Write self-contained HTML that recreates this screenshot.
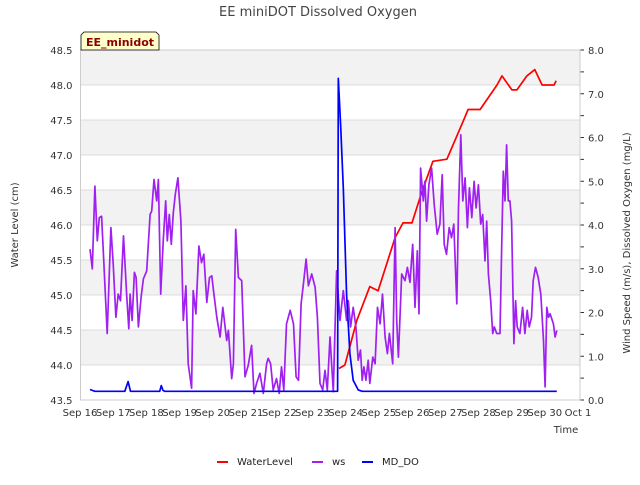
<!DOCTYPE html>
<html><head><meta charset="utf-8"><style>
body{margin:0;background:#fff;width:640px;height:480px;overflow:hidden}
svg{font-family:"DejaVu Sans","Liberation Sans",sans-serif}
</style></head><body>
<svg id="chart" width="640" height="480" viewBox="0 0 640 480">
<text x="318" y="16" text-anchor="middle" font-size="13" fill="#444">EE miniDOT Dissolved Oxygen</text>
<g id="bands"></g><g id="axes"></g><g id="series"></g>
<path d="M84,32 L156,32 L159,35 L159,50 L81,50 L81,35 Z" fill="#ffffcc" stroke="#000" stroke-width="0.8"/>
<text x="120" y="46" text-anchor="middle" font-size="11" font-weight="bold" fill="#8b0000">EE_minidot</text>
<text x="18" y="225" transform="rotate(-90 18 225)" text-anchor="middle" font-size="10" fill="#333">Water Level (cm)</text>
<text x="630" y="243" transform="rotate(-90 630 243)" text-anchor="middle" font-size="10" fill="#333">Wind Speed (m/s), Dissolved Oxygen (mg/L)</text>
<text x="566" y="433" text-anchor="middle" font-size="10" fill="#333">Time</text>
<g>
<g><line x1="217" y1="462" x2="228" y2="462" stroke="#ff0000" stroke-width="2"/><text x="237" y="465" font-size="10" fill="#222">WaterLevel</text></g>
<g><line x1="312" y1="462" x2="323" y2="462" stroke="#a020f0" stroke-width="2"/><text x="332" y="465" font-size="10" fill="#222">ws</text></g>
<g><line x1="362" y1="462" x2="373" y2="462" stroke="#0000ff" stroke-width="2"/><text x="382" y="465" font-size="10" fill="#222">MD_DO</text></g>
</g>
</svg>
<script>
const xTickLabels=["Sep 16","Sep 17","Sep 18","Sep 19","Sep 20","Sep 21","Sep 22","Sep 23","Sep 24","Sep 25","Sep 26","Sep 27","Sep 28","Sep 29","Sep 30","Oct 1"];
const leftTicks=[43.5,44.0,44.5,45.0,45.5,46.0,46.5,47.0,47.5,48.0,48.5];
const rightTicks=[0,1,2,3,4,5,6,7,8];
const wlDays=[7.80,7.98,8.34,8.73,8.98,9.49,9.73,10.0,10.30,10.63,11.05,11.54,11.69,12.05,12.56,12.71,13.01,13.16,13.46,13.70,13.92,14.28,14.34];
const wlVals=[43.95,44.0,44.64,45.12,45.06,45.82,46.03,46.03,46.48,46.91,46.94,47.48,47.65,47.65,48.0,48.13,47.93,47.93,48.13,48.22,48.0,48.0,48.06];
const wsDays=[0.30,0.37,0.45,0.52,0.58,0.65,0.72,0.82,0.93,1.00,1.08,1.15,1.22,1.31,1.41,1.47,1.51,1.57,1.64,1.69,1.76,1.84,1.91,2.01,2.11,2.16,2.23,2.31,2.36,2.43,2.51,2.58,2.63,2.69,2.75,2.81,2.87,2.95,3.04,3.11,3.19,3.26,3.36,3.41,3.49,3.58,3.66,3.73,3.82,3.90,3.97,4.02,4.12,4.22,4.30,4.42,4.47,4.57,4.62,4.69,4.77,4.87,4.97,5.07,5.17,5.24,5.32,5.42,5.52,5.62,5.67,5.74,5.82,5.92,6.00,6.07,6.14,6.22,6.33,6.43,6.51,6.58,6.66,6.73,6.81,6.88,6.98,7.08,7.15,7.23,7.31,7.38,7.45,7.53,7.63,7.73,7.83,7.93,8.03,8.08,8.15,8.23,8.31,8.38,8.45,8.50,8.55,8.61,8.68,8.73,8.82,8.89,8.96,9.04,9.11,9.19,9.26,9.32,9.42,9.49,9.54,9.59,9.69,9.79,9.86,9.94,10.02,10.09,10.16,10.21,10.26,10.34,10.39,10.44,10.51,10.59,10.67,10.76,10.84,10.91,10.97,11.04,11.12,11.19,11.26,11.35,11.40,11.47,11.53,11.60,11.67,11.73,11.80,11.87,11.93,12.00,12.07,12.13,12.20,12.25,12.30,12.37,12.43,12.48,12.55,12.65,12.70,12.75,12.80,12.85,12.90,12.95,13.00,13.07,13.12,13.17,13.25,13.33,13.40,13.47,13.53,13.60,13.65,13.72,13.80,13.88,13.96,14.01,14.06,14.11,14.16,14.26,14.31,14.36];
const wsVals=[3.45,3.00,4.89,3.64,4.17,4.20,3.11,1.52,3.94,3.11,1.89,2.42,2.27,3.75,2.35,1.63,2.42,1.82,2.92,2.80,1.67,2.35,2.77,2.95,4.24,4.32,5.04,4.55,5.04,2.42,3.67,4.55,3.64,4.24,3.56,4.28,4.70,5.08,4.09,1.82,2.61,0.83,0.27,2.50,1.97,3.52,3.14,3.33,2.23,2.80,2.84,2.50,1.89,1.44,2.12,1.36,1.59,0.49,0.83,3.90,2.80,2.73,0.53,0.80,1.25,0.15,0.38,0.61,0.15,0.83,0.95,0.83,0.23,0.49,0.15,0.76,0.23,1.74,2.05,1.74,0.53,0.45,2.20,2.65,3.22,2.61,2.88,2.58,1.89,0.38,0.23,0.68,0.23,1.44,0.19,2.95,1.82,2.50,1.82,2.27,1.67,2.12,1.67,0.91,1.14,0.45,0.76,0.45,0.91,0.38,0.98,0.83,2.12,1.74,2.42,1.44,1.06,1.52,0.83,3.94,1.82,0.98,2.88,2.73,3.03,2.69,3.56,2.12,3.41,1.97,5.30,4.55,5.00,4.09,4.92,5.30,4.47,3.79,4.02,5.15,3.56,3.33,3.94,3.71,4.02,2.20,4.39,6.06,4.55,5.08,3.94,4.85,4.17,5.00,4.39,4.92,4.02,4.24,3.18,4.09,2.88,2.27,1.52,1.67,1.52,1.52,3.41,5.23,4.55,5.83,4.55,4.55,4.09,1.29,2.27,1.67,1.52,2.12,1.52,2.05,1.67,1.89,2.73,3.03,2.80,2.42,1.36,0.30,2.12,1.89,1.97,1.74,1.44,1.59];
const doDays=[0.30,0.45,1.35,1.45,1.52,2.40,2.45,2.50,2.55,7.76,7.78,7.85,7.93,8.03,8.13,8.23,8.38,8.50,14.36];
const doVals=[0.24,0.20,0.20,0.42,0.20,0.20,0.33,0.22,0.20,0.20,7.35,6.3,4.85,2.4,1.06,0.45,0.23,0.20,0.20];

const L=80.5,R=580,T=50,B=400,X0=80,DX=33.2;
const xs=d=>X0+d*DX;
const yL=v=>B-(v-43.5)*70;
const yR=v=>B-v*43.75;
const NS="http://www.w3.org/2000/svg";
function mk(tag,attrs,parent){const e=document.createElementNS(NS,tag);for(const k in attrs)e.setAttribute(k,attrs[k]);parent.appendChild(e);return e;}
const bands=document.getElementById('bands'),axes=document.getElementById('axes'),series=document.getElementById('series');
for(let i=0;i<leftTicks.length-1;i++){
  const grey=(leftTicks.length-2-i)%2===0;
  const r=mk('rect',{x:L,y:yL(leftTicks[i+1]),width:R-L,height:yL(leftTicks[i])-yL(leftTicks[i+1]),fill:grey?'#f2f2f2':'#ffffff'},bands);
  
  
}
leftTicks.forEach(v=>{
  const g=mk('line',{x1:L,x2:R,y1:yL(v),y2:yL(v),stroke:'#dcdcdc','stroke-width':1},bands);
  
  
  const t=mk('text',{x:L-8,y:yL(v)+4,'text-anchor':'end','font-size':10,fill:'#333'},axes);
  t.textContent=v.toFixed(1);
  
  
});
for(let v=0;v<=8;v+=0.5){
  const tk=mk('line',{x1:R,x2:R+4,y1:yR(v),y2:yR(v),stroke:'#333','stroke-width':1},axes);
  
  
}
rightTicks.forEach(v=>{
  const t=mk('text',{x:R+8,y:yR(v)+4,'font-size':10,fill:'#333'},axes);
  t.textContent=v.toFixed(1);
  
  
});
xTickLabels.forEach((s,i)=>{
  const t=mk('text',{x:xs(i),y:B+16,'text-anchor':'middle','font-size':10,fill:'#333'},axes);
  t.textContent=s;
  
  
});
const fr=mk('rect',{x:L,y:T,width:R-L,height:B-T,fill:'none',stroke:'#cccccc','stroke-width':1},axes);


function line(days,vals,yf,color,name){
  const d=days.map((x,i)=>(i?'L':'M')+xs(x).toFixed(1)+','+yf(vals[i]).toFixed(1)).join(' ');
  const p=mk('path',{d:d,fill:'none',stroke:color,'stroke-width':1.7,'stroke-linejoin':'round'},series);
  
  
}
line(wlDays,wlVals,yL,'#ff0000','waterlevel-line');
line(wsDays,wsVals,yR,'#a020f0','ws-line');
line(doDays,doVals,yR,'#0000ff','md-do-line');
</script>
</body></html>
